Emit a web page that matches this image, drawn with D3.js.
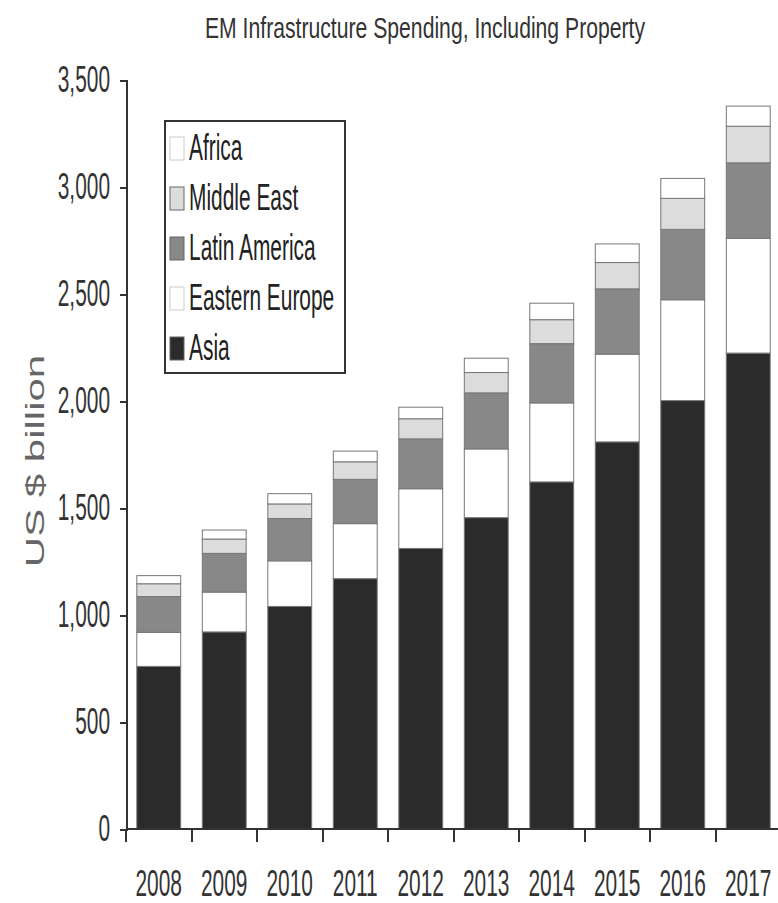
<!DOCTYPE html>
<html>
<head>
<meta charset="utf-8">
<script src="https://cdn.jsdelivr.net/npm/d3@7"></script>
<style>
  body { margin: 0; background: #fff; }
  text { font-family: "Liberation Sans", Arial, sans-serif; }
  .axis path, .axis line { stroke: #333; stroke-width: 2; shape-rendering: crispEdges; }
  .axis text { fill: #333; font-size: 37px; }
</style>
</head>
<body>
<script>
// values (US $ billion)
var years = ["2008", "2009", "2010", "2011", "2012", "2013", "2014", "2015", "2016", "2017"];
var asia          = [760, 921, 1040, 1170, 1311, 1455, 1622, 1809, 2002, 2224];
var easternEurope = [159, 186, 213, 257, 279, 321, 369, 410, 471, 536];
var latinAmerica  = [167, 181, 198, 207, 233, 262, 277, 305, 329, 353];
var middleEast    = [60, 67, 68, 82, 94, 95, 112, 123, 145, 171];
var africa        = [38, 42, 48, 50, 54, 67, 77, 87, 93, 94];
var yTicks = [0, 500, 1000, 1500, 2000, 2500, 3000, 3500];

var seriesNames = ["Asia", "Eastern Europe", "Latin America", "Middle East", "Africa"];
var seriesValues = [asia, easternEurope, latinAmerica, middleEast, africa];
var seriesColors = ["#2b2b2b", "#ffffff", "#888888", "#dcdcdc", "#ffffff"];

var w = 778;
var h = 903;
var plotLeft = 126, plotRight = 781, plotTop = 80, plotBottom = 829;
var narrow = 0.565;  // the picture's text is squeezed sideways

// one row per year for d3.stack
var table = years.map(function(y, i) {
  var row = { year: y };
  seriesNames.forEach(function(s, j) { row[s] = seriesValues[j][i]; });
  return row;
});
var stacked = d3.stack().keys(seriesNames)(table);

var xScale = d3.scaleBand()
  .domain(years)
  .range([plotLeft, plotRight])
  .paddingInner(0.33)
  .paddingOuter(0.165);
var yScale = d3.scaleLinear()
  .domain([0, 3500])
  .range([plotBottom, plotTop]);
var color = d3.scaleOrdinal().domain(seriesNames).range(seriesColors);

var svg = d3.select("body")
  .append("svg")
  .attr("width", w)
  .attr("height", h);

// title
svg.append("text")
  .attr("transform", "translate(425,38) scale(0.706,1)")
  .attr("text-anchor", "middle")
  .style("font-size", "30px")
  .style("fill", "#333")
  .text("EM Infrastructure Spending, Including Property");

// bars
svg.selectAll("g.layer")
  .data(stacked)
  .enter().append("g")
  .attr("class", "layer")
  .attr("fill", function(d) { return color(d.key); })
  .selectAll("rect")
  .data(function(d) { return d; })
  .enter().append("rect")
  .attr("x", function(d) { return xScale(d.data.year); })
  .attr("width", xScale.bandwidth())
  .attr("y", function(d) { return yScale(d[1]); })
  .attr("height", function(d) { return yScale(d[0]) - yScale(d[1]); })
  .attr("stroke", "#777")
  .attr("stroke-width", 1);

// y axis
var yAxis = svg.append("g")
  .attr("class", "axis")
  .attr("transform", "translate(" + plotLeft + ",0)")
  .call(d3.axisLeft(yScale).tickValues(yTicks).tickFormat(d3.format(",")).tickSizeOuter(0).tickSize(6).tickPadding(16));
yAxis.selectAll("text")
  .attr("transform", "scale(" + narrow + ",1)")
  .attr("x", -16 / narrow);

// x axis: line, ticks between bands, year labels
var step = xScale.step();
var xAxis = svg.append("g").attr("class", "axis");
xAxis.append("line")
  .attr("x1", plotLeft).attr("x2", w)
  .attr("y1", plotBottom).attr("y2", plotBottom);
xAxis.selectAll("line.tick")
  .data(years)
  .enter().append("line")
  .attr("class", "tick")
  .attr("x1", function(d) { return xScale(d) - step * xScale.paddingOuter(); })
  .attr("x2", function(d) { return xScale(d) - step * xScale.paddingOuter(); })
  .attr("y1", plotBottom).attr("y2", plotBottom + 13);
xAxis.selectAll("text")
  .data(years)
  .enter().append("text")
  .attr("transform", function(d) {
    return "translate(" + (xScale(d) + xScale.bandwidth() / 2) + "," + (plotBottom + 67) + ") scale(" + narrow + ",1)";
  })
  .attr("text-anchor", "middle")
  .text(function(d) { return d; });

// y axis title
svg.append("text")
  .attr("transform", "translate(44,461) rotate(-90) scale(1,0.6)")
  .attr("text-anchor", "middle")
  .style("font-size", "42px")
  .style("fill", "#666")
  .text("US $ billion");

// legend, top series first
var legend = svg.append("g");
legend.append("rect")
  .attr("x", 165).attr("y", 121)
  .attr("width", 180).attr("height", 252)
  .attr("fill", "#fff")
  .attr("stroke", "#333")
  .attr("stroke-width", 2);
var items = legend.selectAll("g.item")
  .data(seriesNames.slice().reverse())
  .enter().append("g")
  .attr("class", "item")
  .attr("transform", function(d, i) { return "translate(170," + (160 + i * 50) + ")"; });
items.append("rect")
  .attr("x", 0).attr("y", -23)
  .attr("width", 14).attr("height", 23)
  .attr("fill", function(d) { return color(d); })
  .attr("stroke", function(d) { return color(d) === "#ffffff" ? "#ccc" : "#666"; })
  .attr("stroke-width", 1);
items.append("text")
  .attr("transform", "translate(19,0) scale(" + narrow + ",1)")
  .style("font-size", "37px")
  .style("fill", "#222")
  .text(function(d) { return d; });
</script>
</body>
</html>
